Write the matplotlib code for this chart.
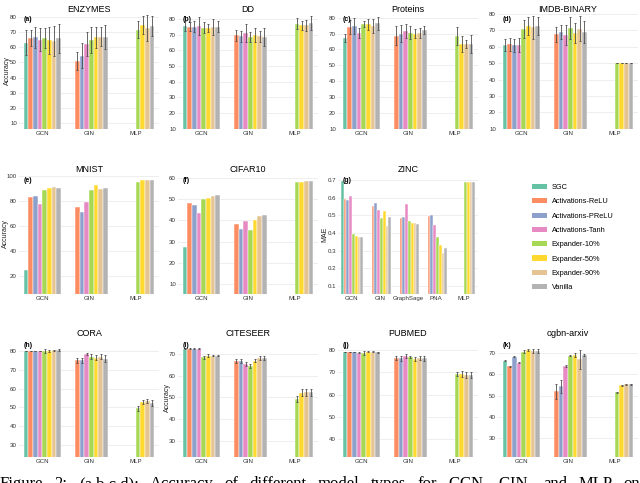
import numpy as np
import matplotlib
matplotlib.use("Agg")
import matplotlib.pyplot as plt
from matplotlib.patches import Patch

plt.rcParams['font.family'] = ['Liberation Sans', 'DejaVu Sans']

nan = np.nan

# hue order used in every panel
hues = ['SGC', 'Activations-ReLU', 'Activations-PReLU', 'Activations-Tanh',
        'Expander-10%', 'Expander-50%', 'Expander-90%', 'Vanilla']
colors = ['#66c2a5', '#fc8d62', '#8da0cb', '#e78ac3',
          '#a6d854', '#ffd92f', '#e5c494', '#b3b3b3']

groups3 = ['GCN', 'GIN', 'MLP']
groups_zinc = ['GCN', 'GIN', 'GraphSage', 'PNA', 'MLP']

# (a) ENZYMES
enzymes_mean = [[63, 66, 66.5, 65, 66, 64.5, 64, 66],
                [nan, 51, 54.5, 62, 65, 66.5, 67, 67],
                [nan, nan, nan, nan, 71.5, 74.5, 72.5, 74]]
enzymes_err = [[8.4, 5.5, 7, 7.5, 6.5, 9, 10, 9.5],
               [nan, 6, 8, 8, 8.5, 7, 6.5, 8],
               [nan, nan, nan, nan, 5.5, 6, 8.5, 6.5]]
# (b) DD
dd_mean = [[75.5, 75, 75, 75.5, 74.5, 74, 75, 75],
           [nan, 69.5, 69, 71, 68.5, 69.5, 69, 68.5],
           [nan, nan, nan, nan, 77, 76, 76, 77.5]]
dd_err = [[3, 3, 3.5, 6, 3.5, 2.5, 5, 3.5],
          [nan, 3.5, 3.5, 5.5, 3, 4.5, 3.5, 6],
          [nan, nan, nan, nan, 3.5, 3, 3.5, 4.5]]
# (c) Proteins
proteins_mean = [[67.5, 74, 75, 70.5, 76, 76, 75, 76.5],
                 [nan, 68.5, 70, 71.5, 70.5, 70, 70.5, 72.5],
                 [nan, nan, nan, nan, 68.5, 63.5, 63.5, 63.5]]
proteins_err = [[2.5, 4.5, 5, 3, 2, 3.5, 4.5, 4],
                [nan, 6, 5.5, 4.5, 4, 3, 3, 2.5],
                [nan, nan, nan, nan, 5.5, 5, 2.5, 5.5]]
# (d) IMDB-BINARY
imdb_mean = [[61, 61.5, 61, 61, 71, 72.5, 72, 72.5],
             [nan, 67.5, 69, 67, 71.5, 68.5, 71, 69],
             [nan, nan, nan, nan, 50, 50, 50, 50]]
imdb_err = [[3.5, 4, 4, 4.5, 5.5, 5.5, 7, 5.5],
            [nan, 4.5, 4.5, 6, 6.5, 6, 7.5, 6.5],
            [nan, nan, nan, nan, 0.2, 0.2, 0.2, 0.2]]
# (e) MNIST
mnist_mean = [[24.5, 83, 84, 77.5, 89, 90.5, 91, 90.5],
              [nan, 75.5, 71.5, 79, 88.5, 92.5, 90, 90.5],
              [nan, nan, nan, nan, 95, 96.5, 96.5, 96.5]]
# (f) CIFAR10
cifar_mean = [[27.5, 48, 47.5, 43.5, 50, 50.5, 51.5, 52],
              [nan, 38.5, 36, 39.5, 35.5, 40, 42, 42.5],
              [nan, nan, nan, nan, 58, 58.2, 58.8, 58.8]]
# (g) ZINC
zinc_mae = [[0.695, 0.595, 0.585, 0.608, 0.395, 0.385, 0.38, 0.38],
            [nan, 0.552, 0.573, 0.532, 0.485, 0.525, 0.443, 0.492],
            [nan, 0.488, 0.493, 0.565, 0.47, 0.457, 0.457, 0.45],
            [nan, 0.495, 0.503, 0.447, 0.378, 0.335, 0.29, 0.315],
            [nan, nan, nan, nan, 0.692, 0.69, 0.687, 0.69]]
# (h) CORA
cora_mean = [[80, 80, 80, 80, 80, 80, 80.5, 80.5],
             [nan, 75, 75, 78.5, 77, 76.5, 77, 76],
             [nan, nan, nan, nan, 49.5, 53, 53.5, 52.5]]
cora_err = [[0.2, 0.2, 0.2, 0.2, 1, 0.5, 0.3, 0.5],
            [nan, 1.5, 1.5, 0.5, 1.5, 1.5, 1.5, 2],
            [nan, nan, nan, nan, 1.5, 1, 1, 1.5]]
# (i) CITESEER
citeseer_mean = [[72.5, 72.5, 72.5, 72.5, 68.5, 69.3, 69.3, 69.3],
                 [nan, 66.7, 66.7, 65.3, 64.5, 67, 68.2, 68.2],
                 [nan, nan, nan, nan, 49.3, 52.2, 52.3, 52.3]]
citeseer_err = [[0.2, 0.2, 0.2, 0.2, 0.7, 0.5, 0.3, 0.3],
                [nan, 0.8, 0.8, 0.8, 0.8, 0.8, 0.8, 0.8],
                [nan, nan, nan, nan, 1.5, 1.5, 1.8, 1.8]]
# (j) PUBMED
pubmed_mean = [[79, 79, 79, 78.8, 78.7, 79.2, 79.2, 79],
               [nan, 76.3, 76.2, 77.3, 76.7, 76, 76.3, 76.2],
               [nan, nan, nan, nan, 69.2, 69.2, 68.7, 68.7]]
pubmed_err = [[0.1, 0.1, 0.1, 0.2, 0.8, 0.3, 0.2, 0.2],
              [nan, 1, 1, 0.8, 0.5, 1, 1, 1],
              [nan, nan, nan, nan, 1, 1.2, 1.3, 1.5]]
# (k) ogbn-arxiv
arxiv_mean = [[66.3, 63.7, 68.2, 65.5, 70.7, 71.5, 71, 71],
              [nan, 52, 54.3, 64, 68.8, 69, 67, 69.2],
              [nan, nan, nan, nan, 51.5, 54.8, 55.3, 55.3]]
arxiv_err = [[0.2, 0.3, 0.3, 0.3, 0.5, 0.5, 0.8, 1],
             [nan, 3.5, 3, 0.5, 0.3, 1, 4.5, 0.5],
             [nan, nan, nan, nan, 0.3, 0.3, 0.2, 0.2]]

W, H = 640, 483
fig = plt.figure(figsize=(W / 100, H / 100), dpi=100)


def rect(left, top, right, bottom):
    return [left / W, 1 - bottom / H, (right - left) / W, (bottom - top) / H]


def panel(box, title_y, title, letter, groups, mean, err, ylim, yticks,
          ylabel=None, ylabel_x=None, fmt='{:g}'):
    ax = fig.add_axes(rect(*box))
    mean = np.array(mean, dtype=float)
    n = len(hues)
    w = 0.8 / n
    xs = np.arange(len(groups))
    for i in range(n):
        x = xs - 0.4 + (i + 0.5) * w
        ax.bar(x, mean[:, i], width=w, color=colors[i], edgecolor='white', linewidth=0.35, zorder=2)
        if err is not None:
            e = np.array(err, dtype=float)[:, i]
            ax.errorbar(x, mean[:, i], yerr=e, fmt='none', ecolor='#4d4d4d',
                        elinewidth=0.6, capsize=1.0, capthick=0.6, zorder=3)
    ax.set_xlim(-0.5, len(groups) - 0.5)
    ax.set_ylim(*ylim)
    ax.set_xticks(xs)
    ax.set_xticklabels(groups)
    ax.set_yticks(yticks)
    ax.set_yticklabels([fmt.format(t) for t in yticks])
    ax.tick_params(axis='both', length=0, labelsize=4.4, colors='#333333', pad=1.5)
    ax.grid(axis='y', color='#ebebeb', linewidth=0.6, zorder=0)
    ax.set_axisbelow(True)
    for s in ax.spines.values():
        s.set_visible(False)
    l, t, r, b = box
    fig.text(((l + r) / 2) / W, 1 - title_y / H, title, fontsize=6.5, ha='center', va='baseline')
    ax.text(0.035, 0.975, letter, transform=ax.transAxes, fontsize=5, fontweight='bold',
            ha='left', va='top', zorder=4)
    if ylabel:
        fig.text(ylabel_x / W, 1 - ((t + b) / 2) / H, ylabel, fontsize=5, rotation=90,
                 ha='center', va='center', color='#222222')
    return ax


cols = [19, 178, 338, 498]
aw = 140
r1 = (13, 129)
r2 = (174, 294)
r3 = (339, 457)
ty = [11.5, 171.5, 336.5]

panel((cols[0], r1[0], cols[0] + aw, r1[1]), ty[0], 'ENZYMES', '(a)', groups3, enzymes_mean, enzymes_err,
      (6, 82.6), range(10, 81, 10), 'Accuracy', 7)
panel((cols[1], r1[0], cols[1] + aw, r1[1]), ty[0], 'DD', '(b)', groups3, dd_mean, dd_err,
      (9.8, 83.8), range(10, 81, 10))
panel((cols[2], r1[0], cols[2] + aw, r1[1]), ty[0], 'Proteins', '(c)', groups3, proteins_mean, proteins_err,
      (9.8, 83), range(10, 81, 10))
panel((cols[3], r1[0], cols[3] + aw, r1[1]), ty[0], 'IMDB-BINARY', '(d)', groups3, imdb_mean, imdb_err,
      (9.8, 80.6), range(10, 81, 10))

panel((cols[0], r2[0], cols[0] + aw, r2[1]), ty[1], 'MNIST', '(e)', groups3, mnist_mean, None,
      (5.6, 101.6), range(20, 101, 20), 'Accuracy', 5)
panel((cols[1], r2[0], cols[1] + aw, r2[1]), ty[1], 'CIFAR10', '(f)', groups3, cifar_mean, None,
      (5.3, 61.9), range(10, 61, 10))
panel((cols[2], r2[0], cols[2] + aw, r2[1]), ty[1], 'ZINC', '(g)', groups_zinc, zinc_mae, None,
      (0.055, 0.735), [0.1, 0.2, 0.3, 0.4, 0.5, 0.6, 0.7], 'MAE', 325, fmt='{:.1f}')

panel((cols[0], r3[0], cols[0] + aw, r3[1]), ty[2], 'CORA', '(h)', groups3, cora_mean, cora_err,
      (23.6, 86.4), range(30, 81, 10))
panel((cols[1], r3[0], cols[1] + aw, r3[1]), ty[2], 'CITESEER', '(i)', groups3, citeseer_mean, citeseer_err,
      (22.6, 76.9), range(30, 71, 10), 'Accuracy', 167)
panel((cols[2], r3[0], cols[2] + aw, r3[1]), ty[2], 'PUBMED', '(j)', groups3, pubmed_mean, pubmed_err,
      (32, 84.9), range(40, 81, 10))
panel((cols[3], r3[0], cols[3] + aw, r3[1]), ty[2], 'ogbn-arxiv', '(k)', groups3, arxiv_mean, arxiv_err,
      (21.1, 76.6), range(30, 71, 10))

# shared legend
handles = [Patch(facecolor=c, edgecolor='none', label=h) for c, h in zip(colors, hues)]
fig.legend(handles=handles, loc='upper left', bbox_to_anchor=(532 / W, 1 - 184 / H),
           frameon=False, fontsize=5.3, handlelength=2.0, handleheight=0.7,
           labelspacing=0.97, handletextpad=0.7, borderaxespad=0, borderpad=0)

# caption (cut off at the bottom of the image), justified across the width
caption = "Figure 2: (a,b,c,d): Accuracy of different model types for GCN, GIN, and MLP on"
words = caption.split()
renderer = fig.canvas.get_renderer()
txts = [fig.text(0, 1 - 488 / H, wd, fontsize=12, family=['Liberation Serif', 'DejaVu Serif'],
                 va='baseline', ha='left') for wd in words]
widths = [t.get_window_extent(renderer).width for t in txts]
gap = (W - sum(widths)) / (len(words) - 1)
x = 0.0
for t, wd in zip(txts, widths):
    t.set_x(x / W)
    x += wd + gap

fig.savefig('out.png', dpi=100)
